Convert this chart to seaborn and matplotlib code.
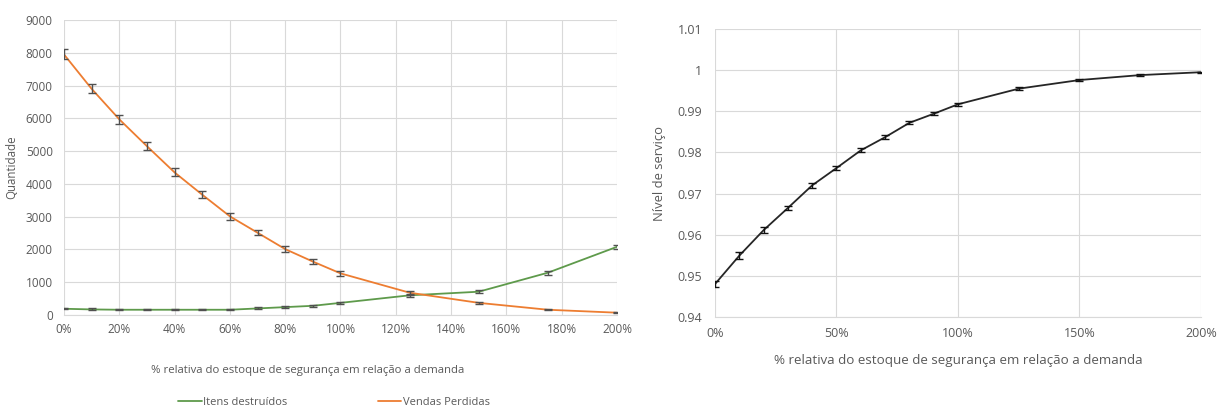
import matplotlib
matplotlib.use("Agg")
import matplotlib.pyplot as plt
import numpy as np
import pandas as pd
import seaborn as sns
from matplotlib.ticker import FuncFormatter, MultipleLocator

# % do estoque de segurança
estoque = [0, 10, 20, 30, 40, 50, 60, 70, 80, 90, 100, 125, 150, 175, 200]

# painel esquerdo
vendas_perdidas = [7950, 6900, 5970, 5150, 4350, 3670, 3010, 2510, 2010, 1630, 1270, 680, 370, 160, 70]
vendas_err = [150, 140, 130, 120, 120, 110, 100, 80, 80, 80, 70, 60, 30, 20, 10]
itens_destruidos = [190, 170, 160, 160, 160, 160, 160, 200, 240, 280, 370, 600, 710, 1290, 2080]
itens_err = [20, 30, 20, 20, 20, 20, 20, 30, 30, 30, 30, 50, 50, 60, 70]

# painel direito
nivel_servico = [0.9480, 0.9549, 0.9611, 0.9665, 0.9720, 0.9762, 0.9805, 0.9837, 0.9872, 0.9894,
                 0.9917, 0.9955, 0.9976, 0.9988, 0.9995]
nivel_err = [0.0008, 0.0008, 0.0007, 0.0006, 0.0006, 0.0005, 0.0005, 0.0005, 0.0004, 0.0004,
             0.0004, 0.0003, 0.0002, 0.0002, 0.0001]

GREEN = "#5E9A4B"
ORANGE = "#ED7D31"
TXT = "#595959"
GRID = "#D9D9D9"

sns.set_style("white")
plt.rcParams["font.family"] = ["Open Sans", "DejaVu Sans"]

df = pd.DataFrame({
    "estoque": estoque,
    "Itens destruídos": itens_destruidos,
    "Vendas Perdidas": vendas_perdidas,
    "nivel": nivel_servico,
})

fig = plt.figure(figsize=(12.23, 4.11), dpi=100)
ax1 = fig.add_axes([0.0523, 0.2336, 0.4522, 0.7178])
ax2 = fig.add_axes([0.5846, 0.2287, 0.3974, 0.7007])

pct = FuncFormatter(lambda v, p: f"{v:.0f}%")

# ── painel esquerdo ─────────────────────────────────────
sns.lineplot(data=df, x="estoque", y="Itens destruídos", ax=ax1, color=GREEN, lw=1.3,
             label="Itens destruídos")
sns.lineplot(data=df, x="estoque", y="Vendas Perdidas", ax=ax1, color=ORANGE, lw=1.3,
             label="Vendas Perdidas")
ax1.errorbar(estoque, itens_destruidos, yerr=itens_err, fmt="none", ecolor="#505050",
             elinewidth=1, capsize=3)
ax1.errorbar(estoque, vendas_perdidas, yerr=vendas_err, fmt="none", ecolor="#505050",
             elinewidth=1, capsize=3)
ax1.set_xlim(0, 200)
ax1.set_ylim(0, 9000)
ax1.xaxis.set_major_locator(MultipleLocator(20))
ax1.yaxis.set_major_locator(MultipleLocator(1000))
ax1.xaxis.set_major_formatter(pct)
ax1.set_xlabel("% relativa do estoque de segurança em relação a demanda", fontsize=8.2, color=TXT)
ax1.xaxis.label.set_va("center")
ax1.xaxis.set_label_coords(0.44, -0.187)
ax1.set_ylabel("Quantidade", fontsize=8.3, color=TXT)
ax1.yaxis.set_label_coords(-0.083, 0.5)
ax1.legend(loc="center", bbox_to_anchor=(0.273, 0.02), bbox_transform=fig.transFigure,
           ncol=2, frameon=False, fontsize=8, columnspacing=8.2, handlelength=2.1,
           handletextpad=0.1, labelcolor=TXT)

# ── painel direito ──────────────────────────────────────
sns.lineplot(data=df, x="estoque", y="nivel", ax=ax2, color="#262626", lw=1.3)
ax2.errorbar(estoque, nivel_servico, yerr=nivel_err, fmt="none", ecolor="#111111",
             elinewidth=1, capsize=3)
ax2.set_xlim(0, 200)
ax2.set_ylim(0.94, 1.01)
ax2.xaxis.set_major_locator(MultipleLocator(50))
ax2.yaxis.set_major_locator(MultipleLocator(0.01))
ax2.xaxis.set_major_formatter(pct)
ax2.yaxis.set_major_formatter(FuncFormatter(lambda v, p: f"{v:.2f}".rstrip("0").rstrip(".")))
ax2.set_xlabel("% relativa do estoque de segurança em relação a demanda", fontsize=9.6, color=TXT)
ax2.xaxis.label.set_va("center")
ax2.xaxis.set_label_coords(0.5, -0.152)
ax2.set_ylabel("Nível de serviço", fontsize=9.4, color=TXT)
ax2.yaxis.set_label_coords(-0.1, 0.5)

for ax, fs, xp, yp in ((ax1, 8.5, 6, 8), (ax2, 9, 7, 9)):
    ax.grid(True, color=GRID, lw=0.8)
    ax.set_axisbelow(True)
    for side in ("top", "right", "left"):
        ax.spines[side].set_visible(False)
    ax.spines["bottom"].set_color(GRID)
    ax.tick_params(axis="both", length=0, labelsize=fs, colors=TXT)
    ax.tick_params(axis="x", pad=xp)
    ax.tick_params(axis="y", pad=yp)

fig.savefig("out.png", dpi=100)
